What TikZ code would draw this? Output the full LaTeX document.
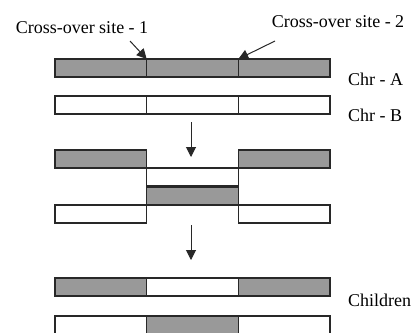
\documentclass[tikz,border=0pt]{standalone}
\usepackage{fontspec}
\setmainfont{Liberation Serif}
\usetikzlibrary{arrows.meta}
\definecolor{chrgray}{RGB}{153,153,153}
\definecolor{edge}{RGB}{40,40,40}
\begin{document}
\begin{tikzpicture}[x=1pt,y=-1pt,
  seg/.style={draw=edge, line width=1.1pt, minimum width=91.67pt, minimum height=18pt, inner sep=0pt, outer sep=0pt, anchor=north west},
  gseg/.style={seg, fill=chrgray},
  wseg/.style={seg, fill=white},
  lbl/.style={font=\fontsize{18}{21}\selectfont, inner sep=0pt},
  arr/.style={draw=edge, line width=1pt, -{Triangle[length=10pt,width=10pt]}}]
\useasboundingbox[fill=white] (0,0) rectangle (419,332);
% Row 1: Chr A
\node[gseg] (a1) at (55,59) {};
\node[gseg] (a2) at (146.67,59) {};
\node[gseg] (a3) at (238.33,59) {};
% Row 2: Chr B
\node[wseg] (b1) at (55,96) {};
\node[wseg] (b2) at (146.67,96) {};
\node[wseg] (b3) at (238.33,96) {};
% Row 3/4: crossing
\node[gseg] (c1) at (55,150) {};
\node[wseg] (c2) at (146.67,168) {};
\node[gseg] (c3) at (238.33,150) {};
\node[wseg] (d1) at (55,205) {};
\node[gseg] (d2) at (146.67,187) {};
\node[wseg] (d3) at (238.33,205) {};
\draw[draw=edge, line width=1.1pt] (c1.north east) -- (d1.south east);
\draw[draw=edge, line width=1.1pt] (c3.north west) -- (d3.south west);
% Children
\node[gseg] (e1) at (55,278) {};
\node[wseg] (e2) at (146.67,278) {};
\node[gseg] (e3) at (238.33,278) {};
\node[wseg] (f1) at (55,316) {};
\node[gseg] (f2) at (146.67,316) {};
\node[wseg] (f3) at (238.33,316) {};
% arrows
\coordinate (s1) at (191,122);
\coordinate (t1) at (191,157);
\coordinate (s2) at (191,225);
\coordinate (t2) at (191,260);
\draw[arr] (s1) -- (t1);
\draw[arr] (s2) -- (t2);
% labels
\node[lbl] (x1) at (82,28) {Cross-over site - 1};
\node[lbl] (x2) at (338,22) {Cross-over site - 2};
\coordinate (x1s) at (130,41);
\coordinate (x2s) at (275,41);
\draw[arr] (x1s) -- (a1.north east);
\draw[arr] (x2s) -- (a3.north west);
\node[lbl, anchor=west] (la) at (348,79) {Chr - A};
\node[lbl, anchor=west] (lb) at (348,115) {Chr - B};
\node[lbl, anchor=west] (lc) at (348,300) {Children};
\end{tikzpicture}
\end{document}
